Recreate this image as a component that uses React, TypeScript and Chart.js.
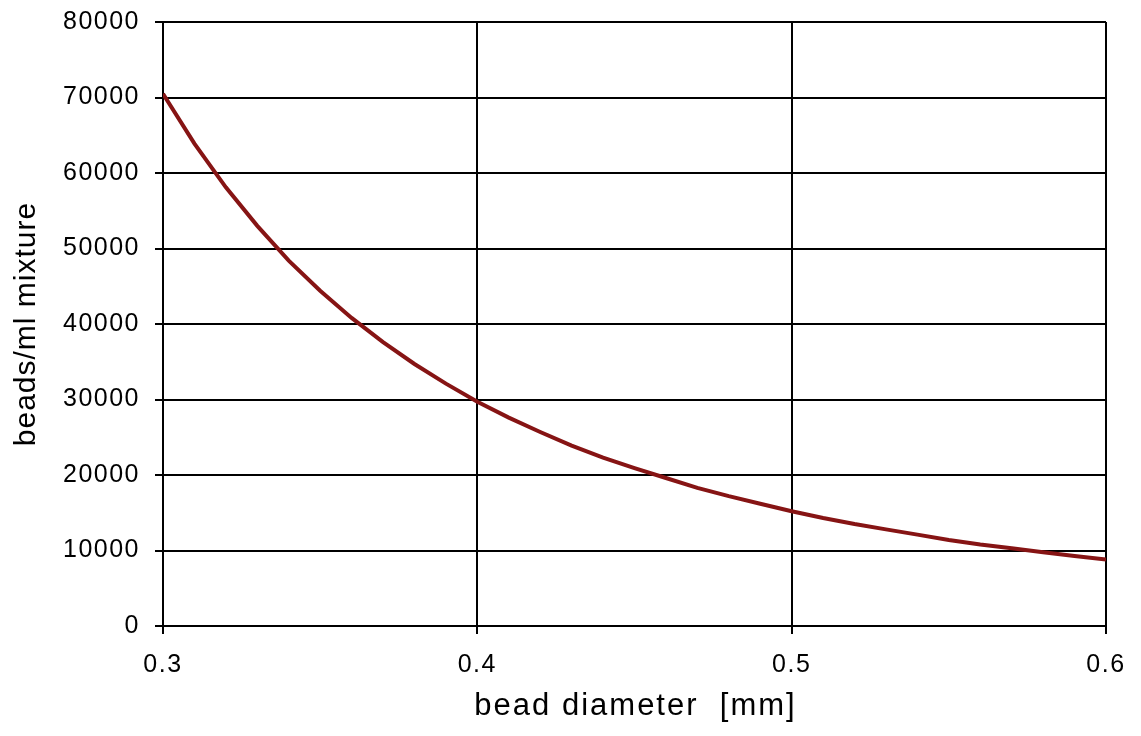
import React, { useEffect, useRef } from "react";
import { Chart, registerables } from "chart.js";

Chart.register(...registerables);

const diameters = [
  0.3, 0.31, 0.32, 0.33, 0.34, 0.35, 0.36, 0.37, 0.38, 0.39, 0.4,
  0.41, 0.42, 0.43, 0.44, 0.45, 0.46, 0.47, 0.48, 0.49, 0.5,
  0.51, 0.52, 0.53, 0.54, 0.55, 0.56, 0.57, 0.58, 0.59, 0.6,
];
const beadsPerMl = [
  70500, 63900, 58100, 53000, 48400, 44400, 40800, 37600, 34700, 32100, 29700,
  27600, 25700, 23900, 22300, 20900, 19600, 18300, 17200, 16200, 15200,
  14300, 13500, 12800, 12100, 11400, 10800, 10300, 9760, 9270, 8800,
];
const xTitle = "bead diameter  [mm]";
const yTitle = "beads/ml mixture";

const FONT = '"Liberation Sans", Arial, sans-serif';

export default function App() {
  const ref = useRef<HTMLCanvasElement | null>(null);
  useEffect(() => {
    if (!ref.current) return;
    const spacingPlugin = {
      id: "spacing",
      beforeDraw(chart: any) {
        chart.ctx.letterSpacing = "1.5px";
      },
    };
    const titlesPlugin = {
      id: "titles",
      afterDraw(chart: any) {
        const ctx = chart.ctx as CanvasRenderingContext2D;
        const area = chart.chartArea;
        ctx.save();
        ctx.fillStyle = "#000";
        (ctx as any).letterSpacing = "2px";
        ctx.font = `31px ${FONT}`;
        ctx.textAlign = "center";
        ctx.textBaseline = "alphabetic";
        ctx.fillText(xTitle, (area.left + area.right) / 2 + 1, 715);
        ctx.restore();
        ctx.save();
        ctx.fillStyle = "#000";
        (ctx as any).letterSpacing = "1px";
        ctx.font = `30px ${FONT}`;
        ctx.textAlign = "center";
        ctx.textBaseline = "alphabetic";
        ctx.translate(35, (area.top + area.bottom) / 2);
        ctx.rotate(-Math.PI / 2);
        ctx.fillText(yTitle, 0, 0);
        ctx.restore();
      },
    };
    const chart = new Chart(ref.current, {
      type: "line",
      data: {
        datasets: [
          {
            data: diameters.map((d, i) => ({ x: d, y: beadsPerMl[i] })),
            borderColor: "#861414",
            borderWidth: 4,
            pointRadius: 0,
            tension: 0,
            fill: false,
          },
        ],
      },
      options: {
        animation: false,
        responsive: false,
        layout: { padding: { top: 22, right: 35, left: 0, bottom: 0 } },
        plugins: { legend: { display: false }, tooltip: { enabled: false } },
        scales: {
          x: {
            type: "linear",
            min: 0.3,
            max: 0.6,
            afterFit(scale: any) {
              scale.height = 110;
              scale.paddingLeft = 0;
              scale.paddingRight = 0;
            },
            ticks: {
              stepSize: 0.1,
              color: "#000",
              padding: 16,
              font: { family: FONT, size: 25 },
              maxRotation: 0,
              callback: (v: any) => Number(v).toFixed(1),
            },
            grid: { color: "#000", lineWidth: 2, tickLength: 8 },
            border: { color: "#000", width: 2 },
          },
          y: {
            min: 0,
            max: 80000,
            afterFit(scale: any) {
              scale.width = 163;
              scale.paddingTop = 0;
              scale.paddingBottom = 0;
            },
            ticks: {
              stepSize: 10000,
              color: "#000",
              padding: 15,
              font: { family: FONT, size: 25 },
              callback: (v: any) => String(v),
            },
            grid: { color: "#000", lineWidth: 2, tickLength: 8 },
            border: { color: "#000", width: 2 },
          },
        },
      },
      plugins: [spacingPlugin, titlesPlugin],
    });
    return () => chart.destroy();
  }, []);
  return (
    <div style={{ position: "fixed", left: 0, top: 0, width: 1141, height: 736, background: "#fff" }}>
      <canvas ref={ref} width={1141} height={736} style={{ display: "block", width: 1141, height: 736 }} />
    </div>
  );
}
